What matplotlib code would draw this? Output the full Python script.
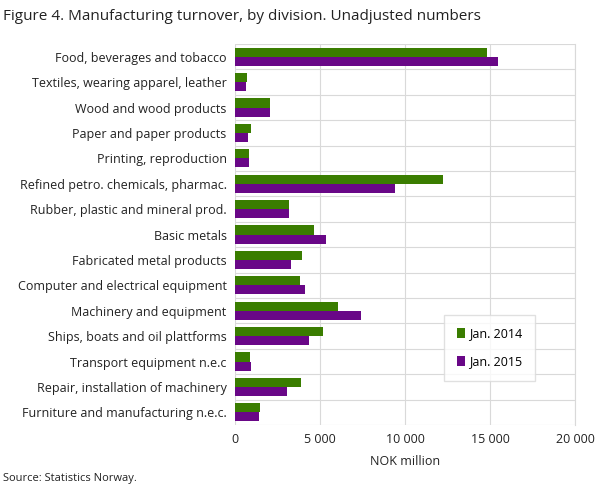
import matplotlib
matplotlib.use("Agg")
import matplotlib.pyplot as plt
import numpy as np

categories = ["Food, beverages and tobacco", "Textiles, wearing apparel, leather",
              "Wood and wood products", "Paper and paper products", "Printing, reproduction",
              "Refined petro. chemicals, pharmac.", "Rubber, plastic and mineral prod.",
              "Basic metals", "Fabricated metal products", "Computer and electrical equipment",
              "Machinery and equipment", "Ships, boats and oil plattforms",
              "Transport equipment n.e.c", "Repair, installation of machinery",
              "Furniture and manufacturing n.e.c."]
jan2014 = [14850, 700, 2030, 930, 810, 12240, 3190, 4640, 3950, 3830, 6030, 5160, 870, 3890, 1450]
jan2015 = [15490, 640, 2030, 750, 810, 9400, 3190, 5340, 3310, 4120, 7430, 4350, 930, 3080, 1390]
xticks = [0, 5000, 10000, 15000, 20000]
xticklabels = ["0", "5 000", "10 000", "15 000", "20 000"]

plt.rcParams["font.family"] = "Open Sans"
fig = plt.figure(figsize=(6.09, 4.88), dpi=100)
ax = fig.add_axes([235/609, 1-425/488, 340/609, 381/488])
n = len(categories)
y = np.arange(n)
h = 0.36
ax.barh(y - h/2, jan2014, height=h, color="#3a7d00", label="Jan. 2014", zorder=3)
ax.barh(y + h/2, jan2015, height=h, color="#690787", label="Jan. 2015", zorder=3)
ax.set_ylim(n - 0.5, -0.5)
ax.set_xlim(0, 20000)
ax.set_yticks(y)
ax.set_yticklabels(categories, fontsize=9, color="#222222")
ax.set_xticks(xticks)
ax.set_xticklabels(xticklabels, fontsize=9, color="#222222")
for yy in np.arange(-0.5, n, 1.0):
    ax.axhline(yy, color="#d9d9d9", lw=0.8, zorder=1)
ax.grid(axis="x", color="#d9d9d9", lw=0.8, zorder=1)
for s in ["top", "left", "bottom"]:
    ax.spines[s].set_visible(False)
ax.spines["right"].set_color("#d9d9d9")
ax.tick_params(length=0, pad=6)
ax.set_xlabel("NOK million", fontsize=9, color="#222222", labelpad=6)
leg = ax.legend(loc="lower right", bbox_to_anchor=(0.9, 0.1), fontsize=9, frameon=True,
                fancybox=False, edgecolor="#d9d9d9", handlelength=0.7, handleheight=0.9,
                labelspacing=1.2, borderpad=1.0, handletextpad=0.3)
fig.text(0.005, 1-17/488, "Figure 4. Manufacturing turnover, by division. Unadjusted numbers",
         fontsize=11, va="center", color="#222222")
fig.text(0.005, 1-478/488, "Source: Statistics Norway.", fontsize=8, va="center", color="#222222")
fig.savefig("out.png", dpi=100)
